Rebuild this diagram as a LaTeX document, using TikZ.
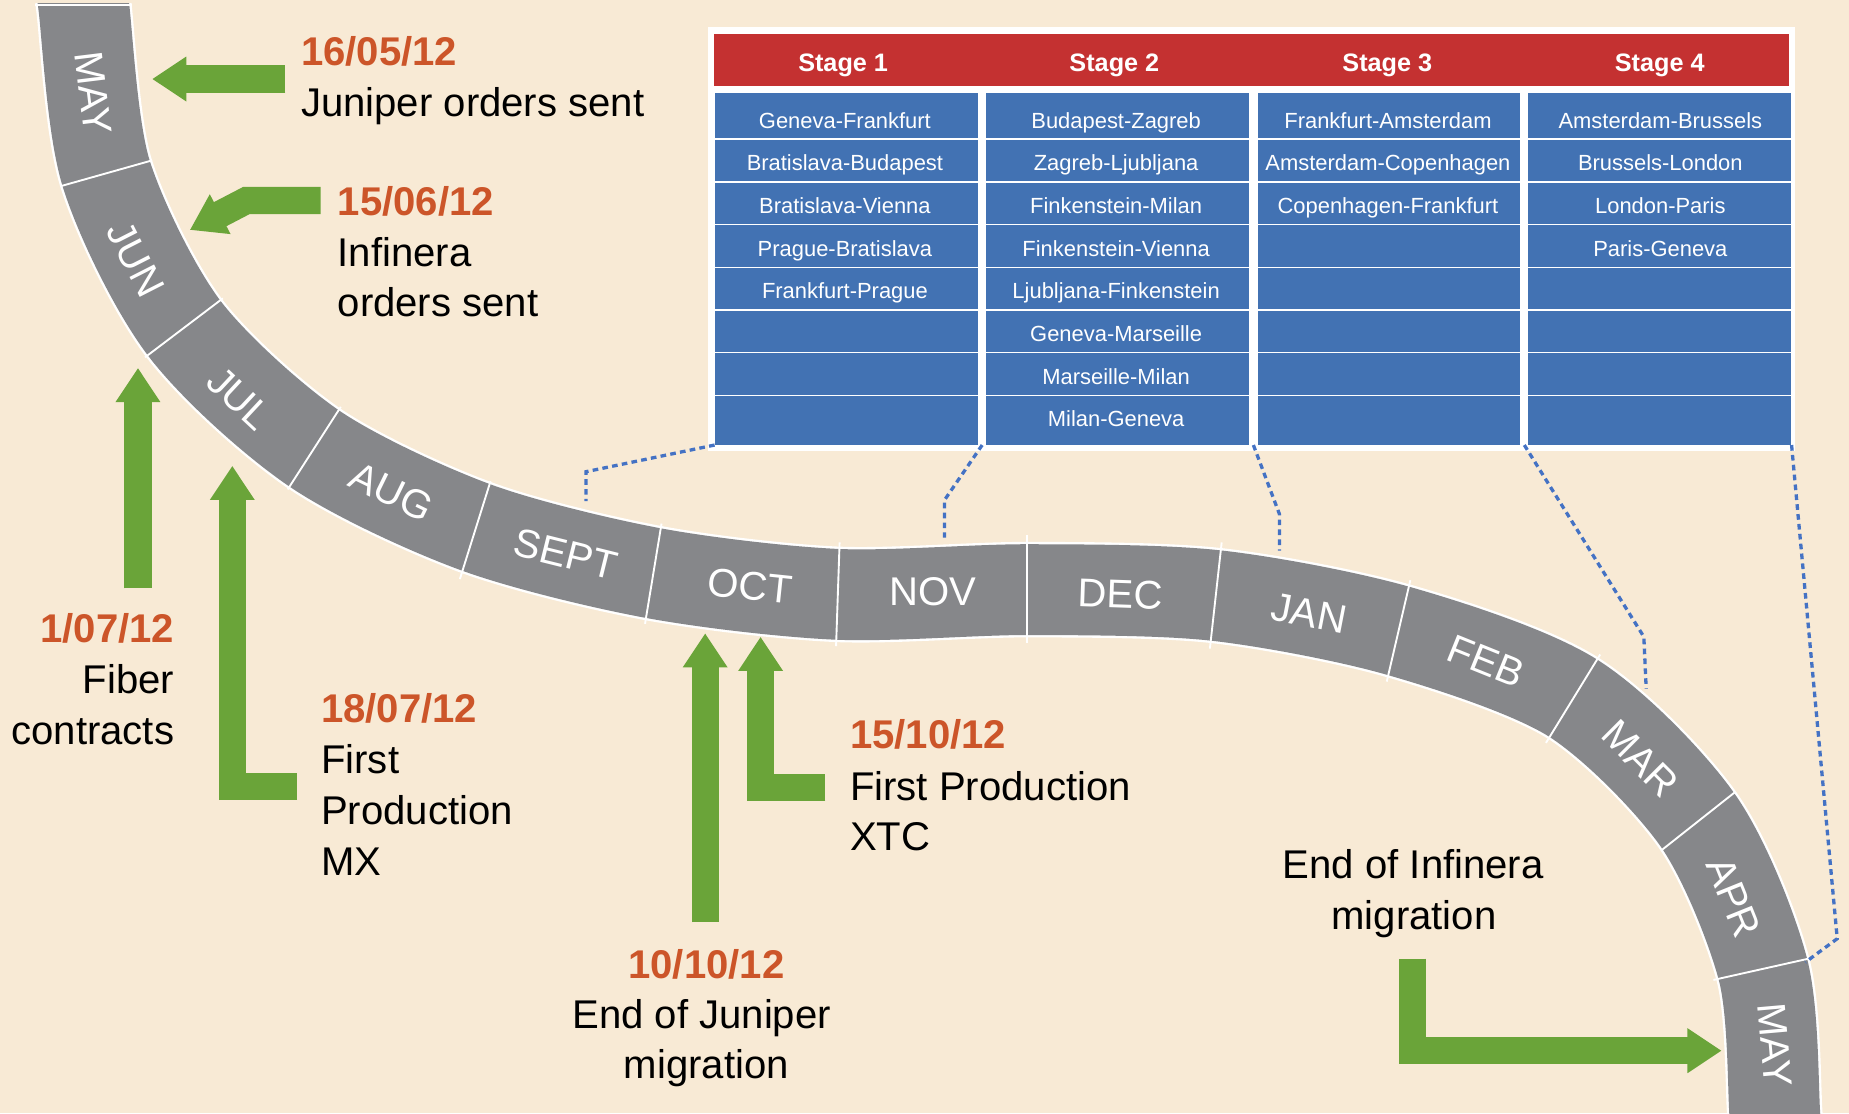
\documentclass[tikz,border=0pt]{standalone}
\usepackage{fontspec}
\setmainfont{Liberation Sans}
\usetikzlibrary{arrows.meta,calc}

\definecolor{pagebg}{HTML}{F8EAD5}
\definecolor{bandgray}{HTML}{86878A}
\definecolor{cellblue}{HTML}{4272B3}
\definecolor{headred}{HTML}{C43131}
\definecolor{arrowgreen}{HTML}{6AA439}
\definecolor{dateorange}{HTML}{CC5529}
\definecolor{linkblue}{HTML}{4472C4}

\tikzstyle{monthtext}=[text=white, inner sep=0pt, font=\fontsize{17}{20}\selectfont]
\tikzstyle{datetext}=[text=dateorange, inner sep=0pt, font=\fontsize{17}{20}\selectfont\bfseries]
\tikzstyle{eventtext}=[text=black, inner sep=0pt, font=\fontsize{17}{20}\selectfont]
\tikzstyle{stagehead}=[text=white, inner sep=0pt, anchor=base, font=\fontsize{10.7}{12}\selectfont\bfseries]
\tikzstyle{routetext}=[text=white, inner sep=0pt, anchor=base, font=\fontsize{9.3}{11}\selectfont]
\tikzstyle{stagecol}=[fill=cellblue, anchor=north west, inner sep=0pt,
    minimum width=111.5pt, minimum height=149pt]
\tikzstyle{greenarrow}=[draw=arrowgreen, line width=11.5pt,
    -{Triangle[length=14.5pt,width=18pt]}]
\tikzstyle{dotlink}=[draw=linkblue, line width=1.4pt, dash pattern=on 2.4pt off 1.8pt]
\tikzstyle{divider}=[draw=white, line width=0.8pt]

\begin{document}
\begin{tikzpicture}[x=0.5pt, y=-0.5pt]
    \useasboundingbox (0,0) rectangle (1568,944);
    \fill[pagebg] (0,0) rectangle (1568,944);

    % timeline band
    \begin{scope}
        \clip (0,3) rectangle (1568,944);
        \draw[white, line width=40.5pt, postaction={draw, bandgray, line width=38.5pt}]
            plot[smooth] coordinates {(68,-30) (71,5) (90,147) (156,278) (266,380)
            (403,447) (554,486) (710,504) (872,500) (1031,505) (1186,535)
            (1334,592) (1440,696) (1495,822) (1505,944) (1506,990)};
    \end{scope}
    \draw[white, line width=1pt] (30,4) -- (112,4);

    \draw[divider] (51,158) -- (129,136);
    \draw[divider] (123,303) -- (189,253);
    \draw[divider] (244,415) -- (289,345);
    \draw[divider] (390,491) -- (416,408);
    \draw[divider] (547,529) -- (561,444);
    \draw[divider] (709,548) -- (712,460);
    \draw[divider] (871,545) -- (871,454);
    \draw[divider] (1026,550) -- (1036,460);
    \draw[divider] (1176,578) -- (1196,492);
    \draw[divider] (1311,630) -- (1357,555);
    \draw[divider] (1409,721) -- (1471,672);
    \draw[divider] (1453,831) -- (1538,812);

    \node[monthtext, rotate=-83] (maystart) at (79,79) {MAY};
    \node[monthtext, rotate=-63] (jun) at (115,220) {JUN};
    \node[monthtext, rotate=-43] (jul) at (203,338) {JUL};
    \node[monthtext, rotate=-26] (aug) at (332,417) {AUG};
    \node[monthtext, rotate=-14] (sept) at (480,470) {SEPT};
    \node[monthtext, rotate=-6] (oct) at (636,497) {OCT};
    \node[monthtext] (nov) at (791,502) {NOV};
    \node[monthtext, rotate=-2] (dec) at (950,504) {DEC};
    \node[monthtext, rotate=-11] (jan) at (1110,520) {JAN};
    \node[monthtext, rotate=-22] (feb) at (1260,561) {FEB};
    \node[monthtext, rotate=-45] (mar) at (1391,643) {MAR};
    \node[monthtext, rotate=-68] (apr) at (1470,761) {APR};
    \node[monthtext, rotate=-85] (mayend) at (1505,886) {MAY};

    % stage table
    \fill[white] (600,22.6) rectangle (1522.5,382.5);
    \fill[headred] (605.5,28.8) rectangle (1517,72.7);
    \node[stagecol] (col1) at (606,78.6) {};
    \node[stagecol] (col2) at (836,78.6) {};
    \node[stagecol] (col3) at (1066,78.6) {};
    \node[stagecol] (col4) at (1295.5,78.6) {};
    \foreach \y in {118,154.2,190.4,226.6,262.8,299,335.2}
        \draw[white, line width=0.6pt] (606,\y) -- (1518.5,\y);

    \node[stagehead] (stage1) at (715,61) {Stage 1};
    \node[stagehead] (stage2) at (945,61) {Stage 2};
    \node[stagehead] (stage3) at (1176.5,61) {Stage 3};
    \node[stagehead] (stage4) at (1407.5,61) {Stage 4};

    \node[routetext] (gefr) at (716.5,108.8) {Geneva-Frankfurt};
    \node[routetext] (brbu) at (716.5,145) {Bratislava-Budapest};
    \node[routetext] (brvi) at (716.5,181.1) {Bratislava-Vienna};
    \node[routetext] (prbr) at (716.5,217.3) {Prague-Bratislava};
    \node[routetext] (frpr) at (716.5,253.4) {Frankfurt-Prague};
    \node[routetext] (buza) at (946.5,108.8) {Budapest-Zagreb};
    \node[routetext] (zalj) at (946.5,145) {Zagreb-Ljubljana};
    \node[routetext] (fimi) at (946.5,181.1) {Finkenstein-Milan};
    \node[routetext] (fivi) at (946.5,217.3) {Finkenstein-Vienna};
    \node[routetext] (ljfi) at (946.5,253.4) {Ljubljana-Finkenstein};
    \node[routetext] (gema) at (946.5,289.6) {Geneva-Marseille};
    \node[routetext] (mami) at (946.5,325.7) {Marseille-Milan};
    \node[routetext] (mige) at (946.5,361.9) {Milan-Geneva};
    \node[routetext] (fram) at (1177,108.8) {Frankfurt-Amsterdam};
    \node[routetext] (amco) at (1177,145) {Amsterdam-Copenhagen};
    \node[routetext] (cofr) at (1177,181.1) {Copenhagen-Frankfurt};
    \node[routetext] (ambr) at (1408,108.8) {Amsterdam-Brussels};
    \node[routetext] (brlo) at (1408,145) {Brussels-London};
    \node[routetext] (lopa) at (1408,181.1) {London-Paris};
    \node[routetext] (page) at (1408,217.3) {Paris-Geneva};

    % links from the stages down to the band
    \coordinate (septtop) at (497,425);
    \coordinate (novtop) at (801,456);
    \coordinate (jantop) at (1085,467);
    \coordinate (martop) at (1396,584);
    \coordinate (aprtop) at (1531,816);
    \draw[dotlink] (col1.south west) -- ([yshift=12.5pt]septtop) -- (septtop);
    \draw[dotlink] ($(col1.south east)!.5!(col2.south west)$) -- ([yshift=16pt]novtop) -- (novtop);
    \draw[dotlink] ($(col2.south east)!.5!(col3.south west)$) -- ([yshift=15.5pt]jantop) -- (jantop);
    \draw[dotlink] ($(col3.south east)!.5!(col4.south west)$) -- ([xshift=-1pt,yshift=22pt]martop) -- (martop);
    \draw[dotlink] (col4.south east) -- ([xshift=13.5pt,yshift=10pt]aprtop) -- (aprtop);

    % milestones
    \coordinate (junipertail) at (242,67);
    \coordinate (junipertip) at (129,67);
    \coordinate (infineratail) at (272,170);
    \coordinate (infineratip) at (161,195);
    \coordinate (fibertail) at (117,499);
    \coordinate (fibertip) at (117,312);
    \coordinate (mxtail) at (252,667);
    \coordinate (mxtip) at (197,395);
    \coordinate (junmigtail) at (598,782);
    \coordinate (junmigtip) at (598,537);
    \coordinate (xtctail) at (700,668);
    \coordinate (xtctip) at (645,540);
    \coordinate (infmigtail) at (1198,813);
    \coordinate (infmigtip) at (1460,891);
    \draw[greenarrow] (junipertail) -- (junipertip);
    \draw[greenarrow] (infineratail) -- (209,170) -- (infineratip);
    \draw[greenarrow] (fibertail) -- (fibertip);
    \draw[greenarrow] (mxtail) -- (mxtip |- mxtail) -- (mxtip);
    \draw[greenarrow] (junmigtail) -- (junmigtip);
    \draw[greenarrow] (xtctail) -- (xtctip |- xtctail) -- (xtctip);
    \draw[greenarrow] (infmigtail) -- (infmigtail |- infmigtip) -- (infmigtip);

    \node[datetext, anchor=base west] (juniperdate) at (255,55.5) {16/05/12};
    \node[eventtext, anchor=base west] (juniperline) at (255,98.5) {Juniper orders sent};
    \node[datetext, anchor=base west] (infineradate) at (286,183) {15/06/12};
    \node[eventtext, anchor=base west] (infineraline) at (286,225.7) {Infinera};
    \node[eventtext, anchor=base west] (infineraline2) at (286,268.5) {orders sent};
    \node[datetext, anchor=base east] (fiberdate) at (148,544.5) {1/07/12};
    \node[eventtext, anchor=base east] (fiberline) at (148,587.7) {Fiber};
    \node[eventtext, anchor=base east] (fiberline2) at (148,631) {contracts};
    \node[datetext, anchor=base west] (mxdate) at (272,612.3) {18/07/12};
    \node[eventtext, anchor=base west] (mxline) at (272,655.6) {First};
    \node[eventtext, anchor=base west] (mxline2) at (272,699) {Production};
    \node[eventtext, anchor=base west] (mxline3) at (272,742.5) {MX};
    \node[datetext, anchor=base west] (xtcdate) at (720.5,635) {15/10/12};
    \node[eventtext, anchor=base west] (xtcline) at (720.5,678.5) {First Production};
    \node[eventtext, anchor=base west] (xtcline2) at (720.5,721.5) {XTC};
    \node[datetext, anchor=base] (junmigdate) at (599,830) {10/10/12};
    \node[eventtext, anchor=base] (junmigline) at (595,872.5) {End of Juniper};
    \node[eventtext, anchor=base] (junmigline2) at (599,915) {migration};
    \node[eventtext, anchor=base] (infmigline) at (1198.5,745) {End of Infinera};
    \node[eventtext, anchor=base] (infmigline2) at (1199,788) {migration};
\end{tikzpicture}
\end{document}
